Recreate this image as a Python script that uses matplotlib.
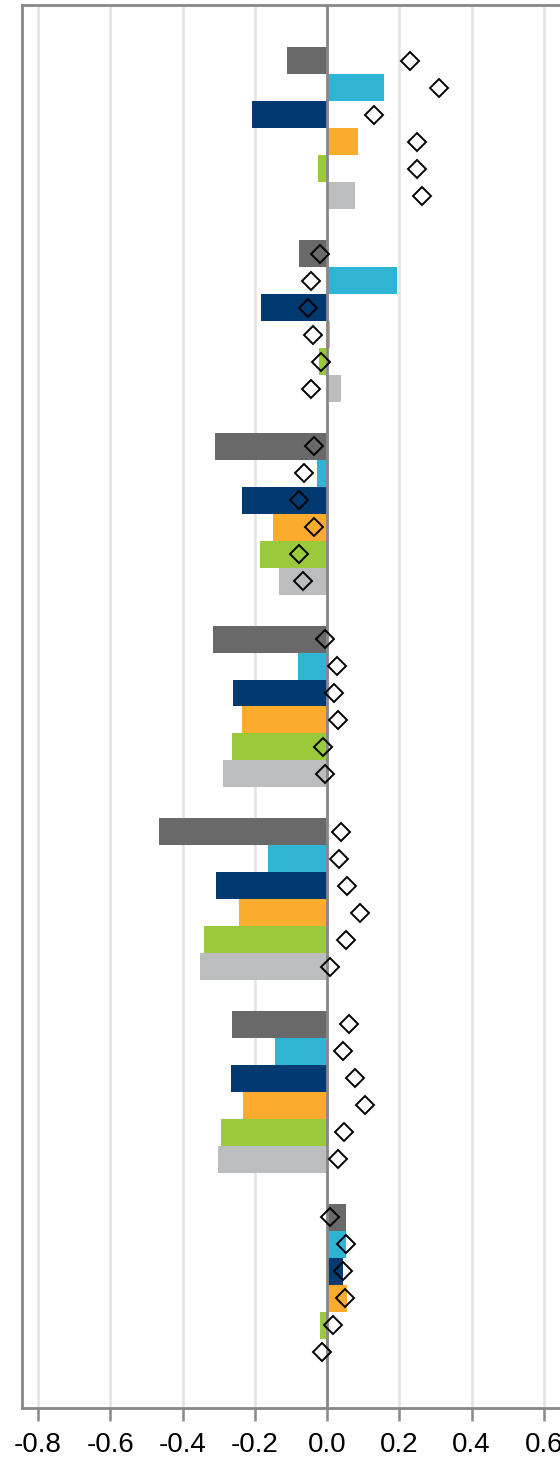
import matplotlib.pyplot as plt
import numpy as np

plt.rcParams['font.family'] = ['Liberation Sans', 'DejaVu Sans']

# seven groups, six series each (top to bottom)
groups = ['G1', 'G2', 'G3', 'G4', 'G5', 'G6', 'G7']
series_colors = ['#696969', '#30B4D4', '#003A70', '#FBAC2F', '#9BC93C', '#BCBDBF']

bar_values = [
    [-0.111, 0.158, -0.209, 0.086, -0.025, 0.078],
    [-0.078, 0.192, -0.183, 0.008, -0.022, 0.039],
    [-0.311, -0.028, -0.235, -0.149, -0.187, -0.134],
    [-0.317, -0.082, -0.260, -0.236, -0.262, -0.288],
    [-0.464, -0.165, -0.308, -0.244, -0.341, -0.353],
    [-0.263, -0.144, -0.267, -0.233, -0.294, -0.302],
    [0.052, 0.053, 0.044, 0.054, -0.020, -0.004],
]
diamond_values = [
    [0.228, 0.310, 0.131, 0.250, 0.250, 0.262],
    [-0.019, -0.044, -0.054, -0.038, -0.017, -0.044],
    [-0.036, -0.063, -0.077, -0.037, -0.077, -0.067],
    [-0.006, 0.027, 0.020, 0.031, -0.012, -0.007],
    [0.037, 0.034, 0.055, 0.092, 0.051, 0.009],
    [0.060, 0.044, 0.076, 0.105, 0.048, 0.031],
    [0.007, 0.051, 0.045, 0.049, 0.016, -0.013],
]
xticks = [-0.8, -0.6, -0.4, -0.2, 0.0, 0.2, 0.4, 0.6]

fig = plt.figure(figsize=(5.6, 14.65), dpi=100)
ax = fig.add_axes([0.039, 0.0389, 0.971, 0.9966 - 0.0389])

h = 0.14
for i, g in enumerate(groups):
    for j in range(6):
        y = i + (j - 2.5) * h
        ax.barh(y, bar_values[i][j], height=h, color=series_colors[j],
                linewidth=0, zorder=2)
        ax.plot(diamond_values[i][j], y, marker='D', markersize=8.8,
                markerfacecolor='none', markeredgecolor='black',
                markeredgewidth=1.4, zorder=4)

ax.axvline(0, color='#888888', linewidth=2, zorder=3)

ax.set_xlim(-0.845, 0.66)
ax.set_ylim(6.64, -0.64)
ax.set_xticks(xticks)
ax.set_xticklabels([f'{t:.1f}' for t in xticks], fontsize=20)
ax.set_yticks([])
ax.grid(axis='x', color='#e3e3e3', linewidth=1.8, zorder=0)
ax.set_axisbelow(True)
ax.tick_params(axis='x', length=9, width=1.8, color='#888888', pad=8)
for s in ['left', 'top', 'bottom']:
    ax.spines[s].set_color('#888888')
    ax.spines[s].set_linewidth(2)
ax.spines['right'].set_visible(False)

fig.savefig('out.png', dpi=100)
